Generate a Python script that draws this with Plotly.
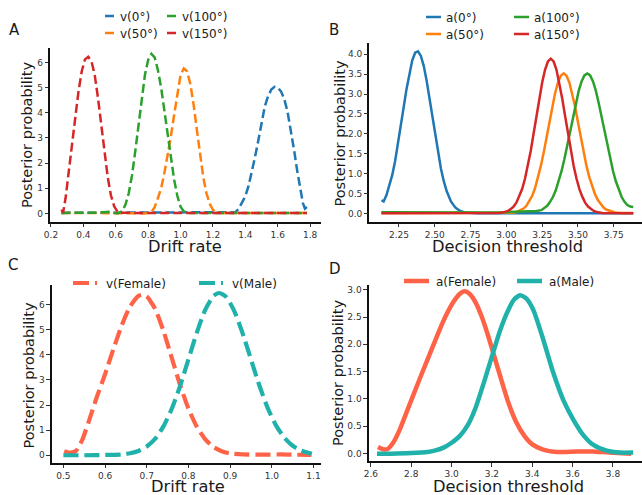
import plotly.graph_objects as go

W, H = 642, 495

# ---------------- Panel A : drift rate by angle (dashed) ----------------
A_labels = ["v(0°)", "v(50°)", "v(100°)", "v(150°)"]
A_x_0 = [0.265, 1.00, 1.30, 1.34, 1.36, 1.38, 1.40, 1.42, 1.44, 1.46, 1.48, 1.50, 1.52, 1.54, 1.56,
         1.58, 1.60, 1.62, 1.64, 1.66, 1.68, 1.70, 1.72, 1.74, 1.755, 1.768, 1.785]
A_y_0 = [0.02, 0.02, 0.02, 0.05, 0.20, 0.42, 0.68, 1.10, 1.65, 2.25, 2.90, 3.55, 4.25, 4.65, 4.92,
         5.03, 5.00, 4.85, 4.55, 4.05, 3.35, 2.55, 1.70, 0.90, 0.42, 0.19, 0.28]
A_x_50 = [0.265, 0.70, 0.78, 0.82, 0.84, 0.86, 0.88, 0.90, 0.92, 0.94, 0.96, 0.98, 1.00, 1.02, 1.04,
          1.06, 1.08, 1.10, 1.12, 1.14, 1.16, 1.18, 1.20, 1.22, 1.25, 1.78]
A_y_50 = [0.02, 0.02, 0.00, 0.05, 0.25, 0.60, 1.00, 1.60, 2.30, 3.05, 3.90, 4.80, 5.50, 5.76, 5.65,
          5.15, 4.35, 3.35, 2.35, 1.45, 0.80, 0.38, 0.14, 0.05, 0.02, 0.02]
A_x_100 = [0.265, 0.40, 0.50, 0.56, 0.61, 0.64, 0.66, 0.68, 0.70, 0.72, 0.74, 0.76, 0.78, 0.80, 0.82,
           0.84, 0.86, 0.88, 0.90, 0.92, 0.94, 0.96, 0.98, 1.00, 1.02, 1.05, 1.30, 1.78]
A_y_100 = [0.02, 0.02, 0.03, 0.06, 0.00, 0.08, 0.35, 0.80, 1.50, 2.45, 3.55, 4.60, 5.50, 6.10, 6.34,
           6.20, 5.70, 5.00, 4.10, 3.15, 2.20, 1.35, 0.70, 0.27, 0.08, 0.02, 0.02, 0.02]
A_x_150 = [0.265, 0.275, 0.29, 0.31, 0.33, 0.35, 0.37, 0.39, 0.41, 0.43, 0.45, 0.47, 0.49, 0.51, 0.53,
           0.55, 0.57, 0.59, 0.61, 0.63, 0.70, 0.90, 1.10, 1.30, 1.50, 1.78]
A_y_150 = [0.15, 0.03, 0.60, 1.60, 2.75, 3.80, 4.85, 5.65, 6.12, 6.22, 6.05, 5.50, 4.60, 3.55, 2.45,
           1.45, 0.72, 0.28, 0.08, 0.03, 0.02, 0.02, 0.02, 0.02, 0.02, 0.02]
A_xticks = [0.2, 0.4, 0.6, 0.8, 1.0, 1.2, 1.4, 1.6, 1.8]
A_yticks = [0, 1, 2, 3, 4, 5, 6]

# ---------------- Panel B : decision threshold by angle (solid) ----------------
B_labels = ["a(0°)", "a(50°)", "a(100°)", "a(150°)"]
B_x_0 = [2.128, 2.143, 2.163, 2.183, 2.203, 2.223, 2.243, 2.263, 2.283, 2.303, 2.323, 2.343, 2.363,
         2.383, 2.403, 2.423, 2.443, 2.463, 2.483, 2.503, 2.523, 2.543, 2.563, 2.583, 2.613, 2.643,
         2.673, 2.713, 2.80, 3.00, 3.20, 3.40, 3.60, 3.886]
B_y_0 = [0.33, 0.30, 0.46, 0.68, 0.96, 1.31, 1.73, 2.19, 2.67, 3.13, 3.54, 3.85, 4.04,
         4.075, 3.96, 3.71, 3.34, 2.90, 2.43, 1.95, 1.51, 1.13, 0.81, 0.56, 0.30, 0.15,
         0.07, 0.02, 0.0, 0.0, 0.0, 0.0, 0.0, 0.0]
B_x_50 = [2.128, 2.90, 3.04, 3.07, 3.10, 3.12, 3.14, 3.16, 3.18, 3.20, 3.22, 3.24, 3.26, 3.28, 3.30,
          3.32, 3.34, 3.36, 3.38, 3.40, 3.42, 3.44, 3.46, 3.48, 3.50, 3.52, 3.54, 3.56, 3.58, 3.60,
          3.62, 3.64, 3.66, 3.68, 3.70, 3.73, 3.76, 3.81, 3.886]
B_y_50 = [0.01, 0.01, 0.014, 0.033, 0.074, 0.12, 0.19, 0.30, 0.44, 0.63, 0.88, 1.18, 1.52, 1.90, 2.29,
          2.68, 3.02, 3.29, 3.46, 3.52, 3.46, 3.29, 3.02, 2.68, 2.29, 1.90, 1.52, 1.18, 0.90, 0.66,
          0.47, 0.33, 0.22, 0.14, 0.09, 0.045, 0.02, 0.01, 0.01]
B_x_100 = [2.128, 2.50, 2.80, 3.00, 3.10, 3.17, 3.21, 3.245, 3.265, 3.285, 3.305, 3.325, 3.345, 3.365,
           3.385, 3.405, 3.425, 3.445, 3.465, 3.485, 3.505, 3.525, 3.545, 3.565, 3.585, 3.605, 3.625,
           3.645, 3.665, 3.685, 3.705, 3.725, 3.745, 3.765, 3.785, 3.805, 3.825, 3.845, 3.865, 3.886]
B_y_100 = [0.03, 0.02, 0.02, 0.03, 0.04, 0.05, 0.06, 0.08, 0.125, 0.19, 0.29, 0.41, 0.58, 0.80,
           1.06, 1.36, 1.70, 2.06, 2.43, 2.77, 3.08, 3.32, 3.47, 3.52, 3.47, 3.32, 3.08,
           2.77, 2.43, 2.06, 1.70, 1.36, 1.06, 0.80, 0.58, 0.41, 0.29, 0.21, 0.17, 0.16]
B_x_150 = [2.128, 2.50, 2.80, 2.95, 2.98, 3.01, 3.03, 3.05, 3.07, 3.09, 3.11, 3.13, 3.15, 3.17, 3.19,
           3.21, 3.23, 3.25, 3.27, 3.29, 3.31, 3.33, 3.35, 3.37, 3.39, 3.41, 3.43, 3.45, 3.47, 3.49,
           3.51, 3.53, 3.55, 3.57, 3.59, 3.61, 3.64, 3.67, 3.886]
B_y_150 = [0.0, 0.0, 0.0, 0.01, 0.025, 0.06, 0.105, 0.17, 0.27, 0.42, 0.61, 0.87, 1.19, 1.57, 2.00,
           2.45, 2.89, 3.29, 3.61, 3.82, 3.89, 3.82, 3.61, 3.29, 2.89, 2.45, 2.00, 1.57, 1.19, 0.87,
           0.61, 0.42, 0.27, 0.17, 0.105, 0.06, 0.025, 0.01, 0.0]
B_xticks = [2.25, 2.50, 2.75, 3.00, 3.25, 3.50, 3.75]
B_yticks = [0.0, 0.5, 1.0, 1.5, 2.0, 2.5, 3.0, 3.5, 4.0]

# ---------------- Panel C : drift rate by gender (dashed) ----------------
C_labels = ["v(Female)", "v(Male)"]
C_x_f = [0.502, 0.515, 0.53, 0.545, 0.56, 0.58, 0.60, 0.62, 0.64, 0.66, 0.68, 0.69, 0.70, 0.72,
         0.74, 0.76, 0.78, 0.80, 0.82, 0.84, 0.86, 0.88, 0.90, 0.93, 0.97, 1.02, 1.06, 1.095]
C_y_f = [0.16, 0.10, 0.17, 0.60, 1.30, 2.31, 3.23, 4.23, 5.18, 5.93, 6.35, 6.40, 6.33, 5.84,
         4.96, 3.88, 2.80, 1.86, 1.14, 0.645, 0.33, 0.16, 0.07, 0.03, 0.02, 0.03, 0.02, 0.01]
C_x_m = [0.50, 0.55, 0.60, 0.64, 0.66, 0.68, 0.70, 0.72, 0.74, 0.76, 0.78, 0.80, 0.82, 0.84, 0.86,
         0.874, 0.89, 0.91, 0.93, 0.95, 0.97, 0.99, 1.01, 1.03, 1.05, 1.07, 1.096]
C_y_m = [0.0, 0.0, 0.01, 0.03, 0.078, 0.17, 0.35, 0.65, 1.15, 1.85, 2.76, 3.82, 4.88, 5.79, 6.35,
         6.47, 6.32, 5.75, 4.86, 3.82, 2.79, 1.89, 1.19, 0.70, 0.38, 0.19, 0.06]
C_xticks = [0.5, 0.6, 0.7, 0.8, 0.9, 1.0, 1.1]
C_yticks = [0, 1, 2, 3, 4, 5, 6]

# ---------------- Panel D : decision threshold by gender (solid) ----------------
D_labels = ["a(Female)", "a(Male)"]
D_x_f = [2.635, 2.66, 2.68, 2.71, 2.744, 2.777, 2.81, 2.843, 2.876, 2.909, 2.942, 2.975, 3.008, 3.04,
         3.065, 3.09, 3.12, 3.15, 3.18, 3.21, 3.24, 3.28, 3.32, 3.36, 3.40, 3.45, 3.52, 3.62, 3.70,
         3.78, 3.89]
D_y_f = [0.12, 0.08, 0.08, 0.20, 0.45, 0.76, 1.07, 1.38, 1.68, 1.98, 2.28, 2.55, 2.77, 2.92,
         2.97, 2.92, 2.76, 2.50, 2.17, 1.80, 1.43, 0.95, 0.58, 0.33, 0.17, 0.08, 0.03, 0.04, 0.04,
         0.02, 0.0]
D_x_m = [2.63, 2.70, 2.80, 2.88, 2.92, 2.96, 3.00, 3.04, 3.08, 3.12, 3.16, 3.20, 3.24, 3.28, 3.31,
         3.34, 3.37, 3.405, 3.455, 3.505, 3.554, 3.604, 3.653, 3.703, 3.769, 3.835, 3.90]
D_y_m = [0.0, 0.0, 0.01, 0.03, 0.06, 0.11, 0.20, 0.32, 0.52, 0.85, 1.30, 1.78, 2.25, 2.62, 2.82,
         2.90, 2.84, 2.63, 2.08, 1.47, 0.98, 0.62, 0.34, 0.16, 0.055, 0.02, 0.02]
D_xticks = [2.6, 2.8, 3.0, 3.2, 3.4, 3.6, 3.8]
D_yticks = [0.0, 0.5, 1.0, 1.5, 2.0, 2.5, 3.0]

TAB = ["#1f77b4", "#ff7f0e", "#2ca02c", "#d62728"]
FEMALE, MALE = "#ff6347", "#20b2aa"
FONT = "DejaVu Sans"
TXT = "#1a1a1a"


def px(xp):
    return xp / W


def py(yp):
    return 1 - yp / H


fig = go.Figure()

panels = [
    ("", [(A_x_0, A_y_0), (A_x_50, A_y_50), (A_x_100, A_y_100), (A_x_150, A_y_150)], TAB, A_labels, 2.5, "9px,4px"),
    ("2", [(B_x_0, B_y_0), (B_x_50, B_y_50), (B_x_100, B_y_100), (B_x_150, B_y_150)], TAB, B_labels, 2.5, "solid"),
    ("3", [(C_x_f, C_y_f), (C_x_m, C_y_m)], [FEMALE, MALE], C_labels, 4.2, "15px,6px"),
    ("4", [(D_x_f, D_y_f), (D_x_m, D_y_m)], [FEMALE, MALE], D_labels, 4.5, "solid"),
]

legend_dash = {"": "0px,20px,9px,100px", "2": "0px,15px,15px,100px",
               "3": "0px,2px,16px,6px,2px,100px", "4": "0px,3px,25px,100px"}
legend_pos = {
    "": [(120, 16), (120, 33), (182, 16), (182, 33)],
    "2": [(446, 17), (446, 34), (534, 17), (534, 34)],
    "3": [(106, 283), (232, 283)],
    "4": [(436, 281), (549, 281)],
}

legend_layouts = {}
leg_id = 0
for suf, series, colors, labels, lw, dash in panels:
    xa, ya = "x" + suf, "y" + suf
    shape = "spline" if suf in ("3", "4") else "linear"
    for (xs, ys), col in zip(series, colors):
        line = dict(color=col, width=lw, dash=dash, shape=shape)
        if shape == "spline":
            line["smoothing"] = 0.6
        fig.add_trace(go.Scatter(x=xs, y=ys, mode="lines", xaxis=xa, yaxis=ya, line=line,
                                 showlegend=False, hoverinfo="skip"))
    for (tx, ty), col, lab in zip(legend_pos[suf], colors, labels):
        leg_id += 1
        lname = "legend" if leg_id == 1 else "legend%d" % leg_id
        fig.add_trace(go.Scatter(x=[None], y=[None], mode="lines", xaxis=xa, yaxis=ya,
                                 line=dict(color=col, width=lw, dash=legend_dash[suf]),
                                 name=lab, legend=lname, showlegend=True))
        legend_layouts[lname] = dict(x=px(tx - 40), y=py(ty), xanchor="left", yanchor="middle",
                                     bgcolor="rgba(0,0,0,0)", borderwidth=0,
                                     font=dict(family=FONT, size=12, color=TXT))

axis_common = dict(showline=True, linecolor="#111", linewidth=1.5, ticks="outside",
                   ticklen=3.5, tickwidth=1, tickcolor="#333", showgrid=False, zeroline=False,
                   automargin=False, tickfont=dict(family=FONT, size=9, color="#333"),
                   tickmode="array")

layout = dict(
    template="none",
    width=W, height=H, autosize=False,
    margin=dict(l=0, r=0, t=0, b=0, pad=0),
    paper_bgcolor="white", plot_bgcolor="white",
    xaxis=dict(axis_common, domain=[px(50), px(321)], range=[0.194, 1.867], anchor="y",
               tickvals=A_xticks, tickformat=".1f"),
    yaxis=dict(axis_common, domain=[py(221.7), py(48.3)], range=[-0.33, 6.56], anchor="x",
               tickvals=A_yticks, tickformat="d"),
    xaxis2=dict(axis_common, domain=[px(369.3), 1.0], range=[2.043, 3.947], anchor="y2",
                tickvals=B_xticks, tickformat=".2f"),
    yaxis2=dict(axis_common, domain=[py(221.7), py(43.3)], range=[-0.21, 4.277], anchor="x2",
                tickvals=B_yticks, tickformat=".1f"),
    xaxis3=dict(axis_common, domain=[px(51.7), px(321)], range=[0.472, 1.118], anchor="y3",
                tickvals=C_xticks, tickformat=".1f"),
    yaxis3=dict(axis_common, domain=[py(463), py(284.7)], range=[-0.31, 6.80], anchor="x3",
                tickvals=C_yticks, tickformat="d"),
    xaxis4=dict(axis_common, domain=[px(368.7), 1.0], range=[2.589, 3.944], anchor="y4",
                tickvals=D_xticks, tickformat=".1f"),
    yaxis4=dict(axis_common, domain=[py(461.3), py(285.3)], range=[-0.14, 3.08], anchor="x4",
                tickvals=D_yticks, tickformat=".1f"),
)
layout.update(legend_layouts)
fig.update_layout(**layout)


def note(text, xp, yp, size, angle=0, yanchor="middle"):
    fig.add_annotation(text=text, x=px(xp), y=py(yp), xref="paper", yref="paper",
                       xanchor="center", yanchor=yanchor, showarrow=False, textangle=angle,
                       borderpad=0, font=dict(family=FONT, size=size, color=TXT))


# panel letters
note("A", 14, 29.5, 15)
note("B", 334, 29.5, 15)
note("C", 13, 264.5, 15)
note("D", 335, 268.5, 15)
# x titles
note("Drift rate", 185, 246, 16.3)
note("Decision threshold", 507, 246, 16.3)
note("Drift rate", 188, 486.5, 16.3)
note("Decision threshold", 508, 486.5, 16.3)
# y titles
note("Posterior probability", 27, 135, 14.5, -90)
note("Posterior probability", 339.5, 134, 14.5, -90)
note("Posterior probability", 28.5, 376, 14.5, -90)
note("Posterior probability", 338, 373, 14.5, -90)

fig.write_html("out.html", config={"displayModeBar": False},
               post_script="document.body.style.margin='0';document.body.style.overflow='hidden';")
